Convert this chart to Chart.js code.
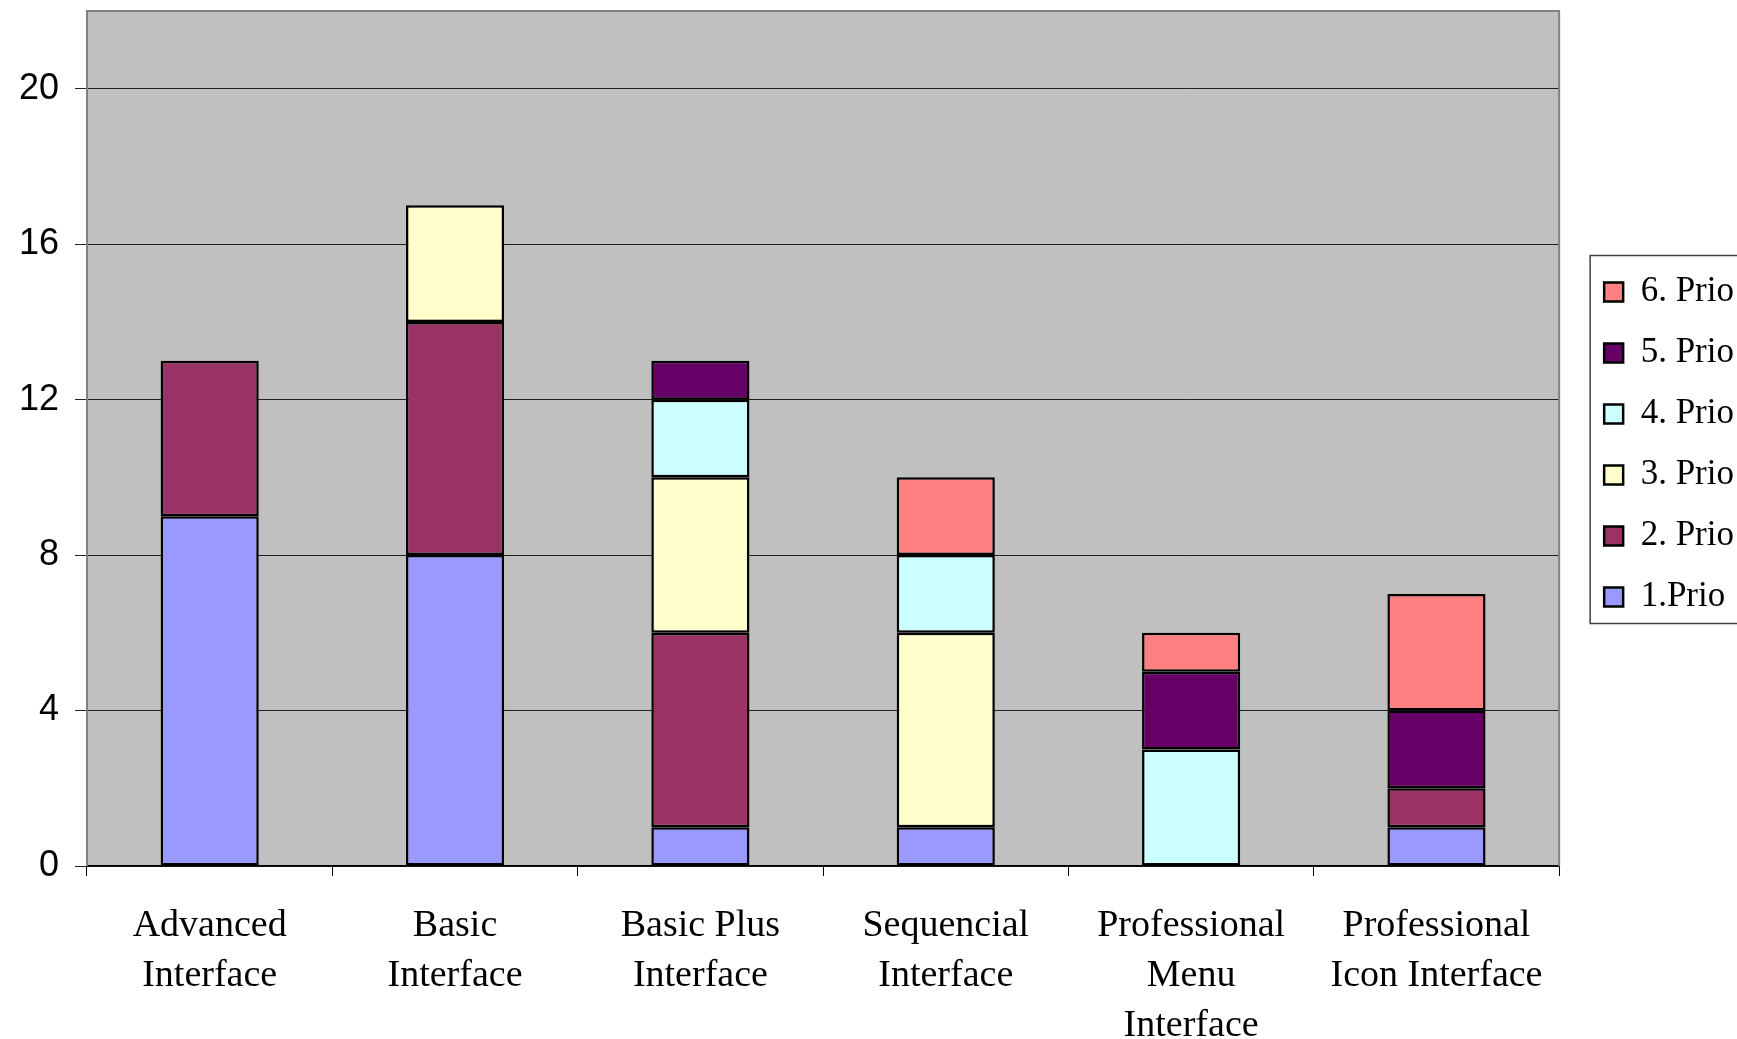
<!DOCTYPE html>
<html>
<head>
<meta charset="utf-8">
<script src="https://cdn.jsdelivr.net/npm/chart.js@4.4.0/dist/chart.umd.min.js"></script>
<style>
  body { margin: 0; background: #fff; }
  canvas { display: block; }
</style>
</head>
<body>
<canvas id="prioChart" width="1737" height="1039"></canvas>
<script>
// categories (x axis)
const interfaces = [
  ['Advanced', 'Interface'],
  ['Basic', 'Interface'],
  ['Basic Plus', 'Interface'],
  ['Sequencial', 'Interface'],
  ['Professional', 'Menu', 'Interface'],
  ['Professional', 'Icon Interface']
];

// stacked counts per priority (null = not present)
const prio1 = [9, 8, 1, 1, null, 1];
const prio2 = [4, 6, 5, null, null, 1];
const prio3 = [null, 3, 4, 5, null, null];
const prio4 = [null, null, 2, 2, 3, null];
const prio5 = [null, null, 1, null, 2, 2];
const prio6 = [null, null, null, 2, 1, 3];

const seriesNames = ['1.Prio', '2. Prio', '3. Prio', '4. Prio', '5. Prio', '6. Prio'];
const seriesColors = ['#9999FF', '#993366', '#FFFFCC', '#CCFFFF', '#660066', '#FF8080'];

const yMax = 22;
const yStep = 4;

// grey plot background + frame
const plotBackground = {
  id: 'plotBackground',
  beforeDraw(chart) {
    const { ctx, chartArea: a } = chart;
    ctx.save();
    ctx.fillStyle = '#C0C0C0';
    ctx.fillRect(a.left, a.top, a.right - a.left, a.bottom - a.top);
    ctx.restore();
  },
  afterDatasetsDraw(chart) {
    const { ctx, chartArea: a } = chart;
    ctx.save();
    ctx.strokeStyle = '#808080';
    ctx.lineWidth = 2;
    ctx.beginPath();
    ctx.moveTo(a.left, a.bottom);
    ctx.lineTo(a.left, a.top);
    ctx.lineTo(a.right, a.top);
    ctx.lineTo(a.right, a.bottom);
    ctx.stroke();
    ctx.restore();
  }
};

// nudge the legend a bit to the right of the plot, then frame it
const legendFrame = {
  id: 'legendFrame',
  afterLayout(chart) {
    const lg = chart.legend;
    if (!lg) return;
    lg.left += 19;
    lg.right += 19;
  },
  afterDraw(chart) {
    const boxes = chart.legend && chart.legend.legendHitBoxes;
    if (!boxes || !boxes.length) return;
    const top = Math.min(...boxes.map(b => b.top));
    const bottom = Math.max(...boxes.map(b => b.top + b.height));
    const left = Math.min(...boxes.map(b => b.left));
    const ctx = chart.ctx;
    ctx.save();
    ctx.strokeStyle = '#404040';
    ctx.lineWidth = 1.5;
    ctx.strokeRect(left - 14, top - 19, chart.width + 10 - (left - 14), bottom - top + 28);
    ctx.restore();
  }
};

const datasets = [prio1, prio2, prio3, prio4, prio5, prio6].map((values, i) => ({
  label: seriesNames[i],
  data: values,
  backgroundColor: seriesColors[i],
  borderColor: '#000',
  borderWidth: 2.5,
  borderSkipped: false,
  barPercentage: 0.4,
  categoryPercentage: 1.0
}));

const ctx = document.getElementById('prioChart').getContext('2d');
const prioChart = new Chart(ctx, {
  type: 'bar',
  data: { labels: interfaces, datasets: datasets },
  plugins: [plotBackground, legendFrame],
  options: {
    responsive: false,
    animation: false,
    layout: { padding: { top: 11, right: 12 } },
    scales: {
      x: {
        stacked: true,
        offset: true,
        grid: {
          offset: true,
          drawOnChartArea: false,
          drawTicks: true,
          tickLength: 10,
          color: '#000',
          lineWidth: 1
        },
        border: { color: '#000', width: 1.5 },
        ticks: {
          color: '#000',
          maxRotation: 0,
          autoSkip: false,
          padding: 25,
          font: { family: '"Liberation Serif", "Times New Roman", serif', size: 38, lineHeight: 1.32 }
        },
        afterFit: scale => { scale.height = 173; }
      },
      y: {
        stacked: true,
        min: 0,
        max: yMax,
        grid: {
          color: '#222',
          lineWidth: 1,
          tickLength: 12
        },
        border: { display: false },
        ticks: {
          stepSize: yStep,
          includeBounds: false,
          color: '#000',
          padding: 16,
          font: { family: '"Liberation Sans", Arial, sans-serif', size: 36 }
        },
        afterFit: scale => {
          scale.width = 87;
          scale.paddingTop = 0;
          scale.paddingBottom = 0;
        }
      }
    },
    plugins: {
      tooltip: { enabled: false },
      legend: {
        position: 'right',
        fullSize: false,
        reverse: true,
        title: { display: true, text: '', font: { size: 10 }, padding: 0 },
        labels: {
          color: '#000',
          boxWidth: 19,
          boxHeight: 19,
          padding: 26,
          font: { family: '"Liberation Serif", "Times New Roman", serif', size: 35 }
        }
      }
    }
  }
});
</script>
</body>
</html>
